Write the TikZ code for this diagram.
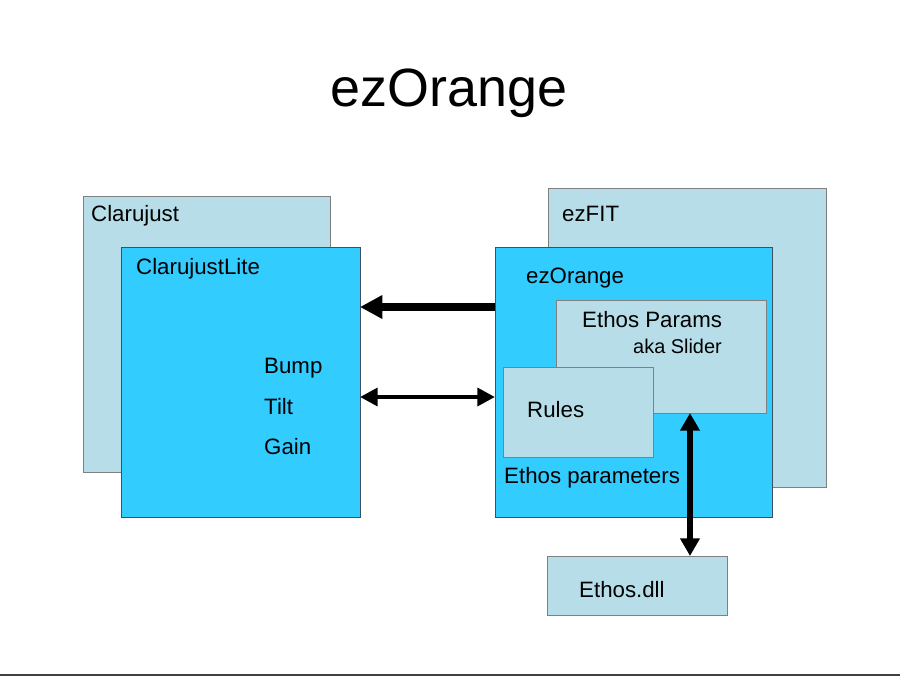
\documentclass[tikz,border=0pt]{standalone}
\usepackage{fontspec}
\setmainfont{Liberation Sans}
\usetikzlibrary{arrows.meta, positioning}
\definecolor{paleteal}{RGB}{183,222,232}
\definecolor{paleedge}{RGB}{128,128,128}
\definecolor{skyblue}{RGB}{51,204,255}
\definecolor{skyedge}{RGB}{60,80,100}
\tikzset{
  px/.style 2 args={minimum width=#1*0.3mm, minimum height=#2*0.3mm},
  palebox/.style={rectangle, draw=paleedge, fill=paleteal, line width=0.6pt,
    inner sep=0pt, outer sep=0pt},
  skybox/.style={rectangle, draw=skyedge, fill=skyblue, line width=0.6pt,
    inner sep=0pt, outer sep=0pt},
  boxtext/.style={anchor=base west, inner sep=0pt,
    font=\fontsize{19}{22}\selectfont},
  smalltext/.style={anchor=base west, inner sep=0pt,
    font=\fontsize{17}{20}\selectfont},
  fatflow/.style={-{Triangle[length=19pt, width=19pt]}, line width=6pt},
  twoflow/.style={{Triangle[length=15pt, width=15pt]}-{Triangle[length=15pt, width=15pt]},
    line width=4.2pt},
  upflow/.style={{Triangle[length=15pt, width=16pt]}-{Triangle[length=15pt, width=16pt]},
    line width=5.4pt},
}

\begin{document}
\begin{tikzpicture}[x=0.3mm, y=-0.3mm]
\useasboundingbox (0,0) rectangle (900,676);

\node[anchor=base, inner sep=0pt, font=\fontsize{46}{52}\selectfont] (title)
  at (449,107) {ezOrange};

% left side
\node[palebox, px={247}{276}] (clarujust) at (206.5,334) {};
\node[skybox, px={239}{270}] (lite) at (240.5,382) {};
\node[boxtext] (clarujustText) at (91,222) {Clarujust};
\node[boxtext] (liteText) at (136,274) {ClarujustLite};
\node[boxtext] (bump) at (264,373) {Bump};
\node[boxtext] (tilt) at (264,414) {Tilt};
\node[boxtext] (gain) at (264,454) {Gain};

% right side
\node[palebox, px={278}{299}] (ezfit) at (687,337.5) {};
\node[skybox, px={277}{270}] (ezorange) at (633.5,382) {};
\node[palebox, px={210}{113}] (params) at (661,356.5) {};
\node[palebox, px={150}{90}] (rules) at (578,412) {};
\node[palebox, px={180}{59}] (dll) at (637,585.5) {};

\node[boxtext] (ezfitText) at (562,222) {ezFIT};
\node[boxtext] (ezorangeText) at (526,283) {ezOrange};
\node[boxtext] (paramsText) at (582,327) {Ethos Params};
\node[smalltext] (sliderText) at (633,353) {aka Slider};
\node[boxtext] (rulesText) at (527,417) {Rules};
\node[boxtext] (ethosText) at (504,483) {Ethos parameters};
\node[boxtext] (dllText) at (579,597) {Ethos.dll};

% connectors
\coordinate (upperY) at (0,307);
\coordinate (lowerY) at (0,397);
\coordinate (dllX) at (690,0);
\draw[fatflow] (ezorange.west |- upperY) -- (lite.east |- upperY);
\draw[twoflow] (lite.east |- lowerY) -- (ezorange.west |- lowerY);
\draw[upflow] (params.south -| dllX) -- (dll.north -| dllX);

% slide edge
\coordinate (edgeL) at (0,675);
\coordinate (edgeR) at (900,675);
\draw[line width=1.8pt, black!75] (edgeL) -- (edgeR);
\end{tikzpicture}
\end{document}
